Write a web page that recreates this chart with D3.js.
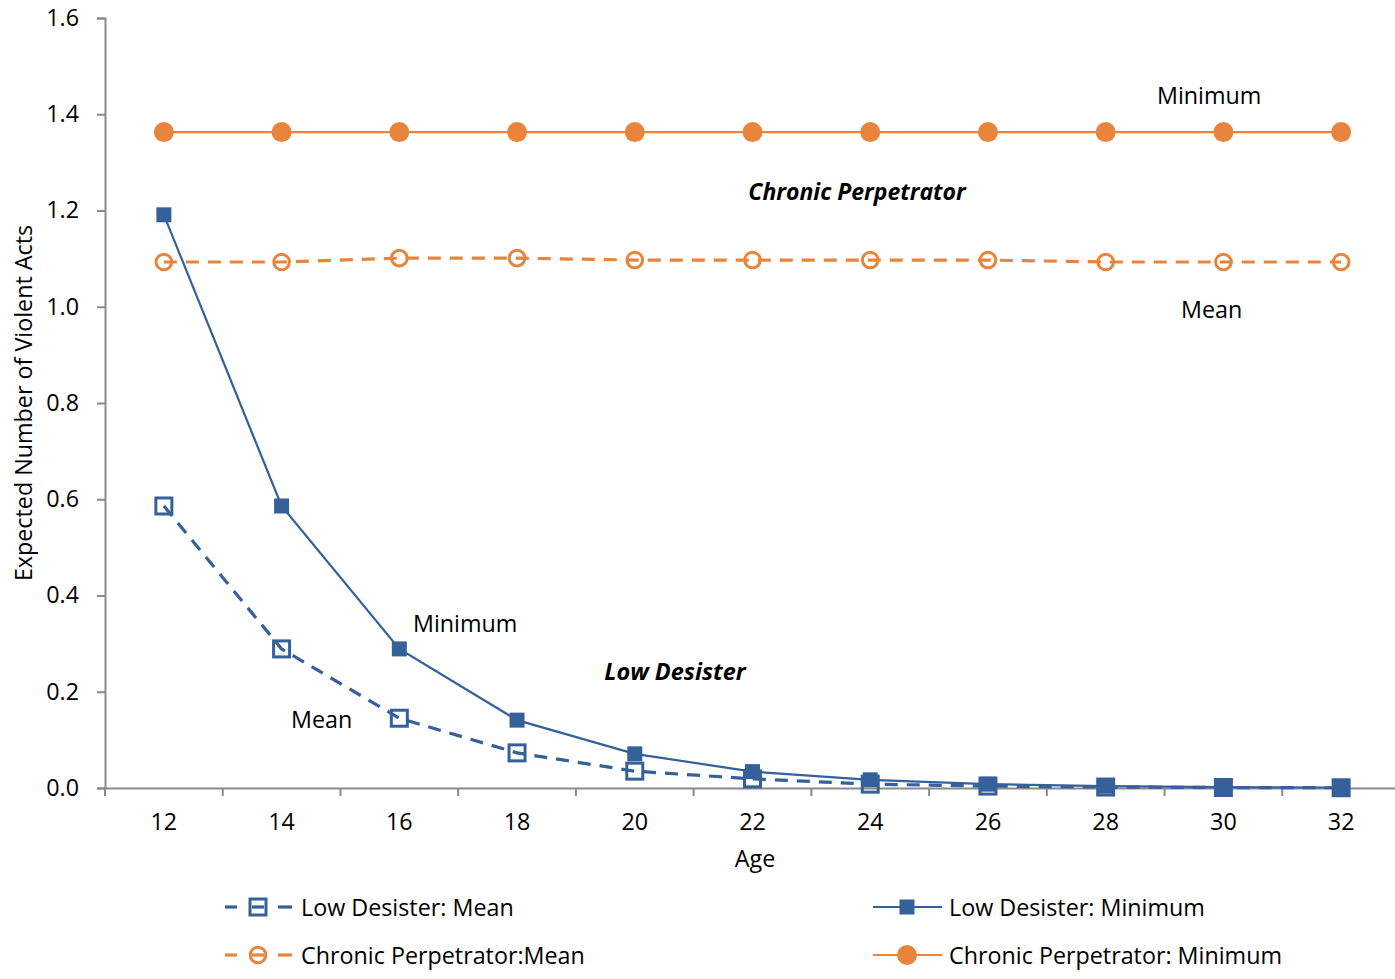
<!DOCTYPE html>
<html><head><meta charset="utf-8">
<script src="https://cdn.jsdelivr.net/npm/d3@7/dist/d3.min.js"></script>
<style>body{margin:0;background:#fff;} text{font-family:"Open Sans",sans-serif;fill:#000;}</style>
</head><body><svg id="c" width="1395" height="979"></svg>
<script>
const ages = [12,14,16,18,20,22,24,26,28,30,32];
const lowMean = [0.586,0.289,0.145,0.073,0.035,0.019,0.008,0.004,0.002,0.001,0.0005];
const lowMin = [1.191,0.586,0.289,0.141,0.071,0.034,0.017,0.008,0.004,0.002,0.001];
const chronMean = [1.093,1.093,1.101,1.101,1.097,1.097,1.097,1.097,1.093,1.093,1.093];
const chronMin = [1.363,1.363,1.363,1.363,1.363,1.363,1.363,1.363,1.363,1.363,1.363];
const yTicks = [0,0.2,0.4,0.6,0.8,1.0,1.2,1.4,1.6];

const BLUE="#34619A", ORANGE="#E8843B", AXIS="#8A8A8A";
const FS=23.3;
const svg=d3.select("#c");
const L=105, R=1400, T=18, B=788;
const x=d3.scaleBand().domain(ages).range([L,R]);
const y=d3.scaleLinear().domain([0,1.6]).range([B,T]);
const cx=d=>x(d)+x.bandwidth()/2;

// y axis
const ya=svg.append("g").attr("transform",`translate(${L},0)`)
 .call(d3.axisLeft(y).tickValues(yTicks).tickFormat(d3.format(".1f")).tickSizeOuter(0).tickSize(8).tickPadding(18));
ya.select(".domain").attr("stroke",AXIS).attr("stroke-width",2);
ya.selectAll(".tick line").attr("stroke",AXIS).attr("stroke-width",2);
ya.selectAll(".tick text").attr("font-size",FS).attr("font-family","Open Sans");

// x axis
const xa=svg.append("g").attr("transform",`translate(0,${B})`)
 .call(d3.axisBottom(x).tickSize(0).tickPadding(25));
xa.select(".domain").attr("stroke",AXIS).attr("stroke-width",2);
xa.selectAll(".tick text").attr("font-size",FS).attr("font-family","Open Sans");
// tick marks between categories
const bounds=ages.map(a=>x(a)).concat([R]);
svg.append("g").selectAll("line").data(bounds).join("line")
 .attr("x1",d=>d).attr("x2",d=>d).attr("y1",B).attr("y2",B+8).attr("stroke",AXIS).attr("stroke-width",2);

const line=d3.line().x((d,i)=>cx(ages[i])).y(d=>y(d));
function series(vals,color,dashed,marker){
  svg.append("path").attr("d",line(vals)).attr("fill","none").attr("stroke",color)
   .attr("stroke-width",dashed?3.2:2.2).attr("stroke-dasharray",dashed?"13,9":null);
  const g=svg.append("g");
  vals.forEach((v,i)=>drawMarker(g,cx(ages[i]),y(v),color,marker));
}
function drawMarker(g,px,py,color,m){
  if(m==="hsq") g.append("rect").attr("x",px-8).attr("y",py-8).attr("width",16).attr("height",16).attr("fill","none").attr("stroke",color).attr("stroke-width",3);
  if(m==="fsq") g.append("rect").attr("x",px-7.5).attr("y",py-7.5).attr("width",15).attr("height",15).attr("fill",color);
  if(m==="hci") g.append("circle").attr("cx",px).attr("cy",py).attr("r",7.8).attr("fill","none").attr("stroke",color).attr("stroke-width",3);
  if(m==="fci") g.append("circle").attr("cx",px).attr("cy",py).attr("r",10).attr("fill",color);
}
series(chronMin,ORANGE,false,"fci");
series(chronMean,ORANGE,true,"hci");
series(lowMin,BLUE,false,"fsq");
series(lowMean,BLUE,true,"hsq");

// annotations
function txt(s,xp,yp,opts={}){
  const t=svg.append("text").attr("x",xp).attr("y",yp).attr("font-size",opts.size||FS).attr("dominant-baseline","central").text(s);
  if(opts.bold) t.attr("font-weight","bold").attr("font-style","italic");
  if(opts.anchor) t.attr("text-anchor",opts.anchor);
  return t;
}
txt("Minimum",1157,95);
txt("Chronic Perpetrator",857,191,{bold:true,anchor:"middle",size:23});
txt("Mean",1181,309);
txt("Minimum",413,623);
txt("Low Desister",675,671,{bold:true,anchor:"middle",size:23.5});
txt("Mean",291,719);

// axis titles
txt("Age",755,858,{anchor:"middle"});
svg.append("text").attr("transform","translate(23,403) rotate(-90)").attr("text-anchor","middle")
 .attr("dominant-baseline","central").attr("font-size",FS).text("Expected Number of Violent Acts");

// legend
const legend=[
 {name:"Low Desister: Mean",color:BLUE,dashed:true,m:"hsq",x:225,y:907},
 {name:"Low Desister: Minimum",color:BLUE,dashed:false,m:"fsq",x:873,y:907},
 {name:"Chronic Perpetrator:Mean",color:ORANGE,dashed:true,m:"hci",x:225,y:955},
 {name:"Chronic Perpetrator: Minimum",color:ORANGE,dashed:false,m:"fci",x:873,y:955}
];
const lg=svg.append("g");
legend.forEach(d=>{
  if(d.dashed){
    lg.append("line").attr("x1",d.x).attr("x2",d.x+12).attr("y1",d.y).attr("y2",d.y).attr("stroke",d.color).attr("stroke-width",3.2);
    lg.append("line").attr("x1",d.x+53).attr("x2",d.x+67).attr("y1",d.y).attr("y2",d.y).attr("stroke",d.color).attr("stroke-width",3.2);
    lg.append("line").attr("x1",d.x+27).attr("x2",d.x+39).attr("y1",d.y).attr("y2",d.y).attr("stroke",d.color).attr("stroke-width",3.2);
    drawMarker(lg,d.x+33,d.y,d.color,d.m);
  } else {
    lg.append("line").attr("x1",d.x).attr("x2",d.x+69).attr("y1",d.y).attr("y2",d.y).attr("stroke",d.color).attr("stroke-width",2.2);
    drawMarker(lg,d.x+34,d.y,d.color,d.m);
  }
  lg.append("text").attr("x",d.x+76).attr("y",d.y).attr("dominant-baseline","central").attr("font-size",FS).text(d.name);
});
</script></body></html>
